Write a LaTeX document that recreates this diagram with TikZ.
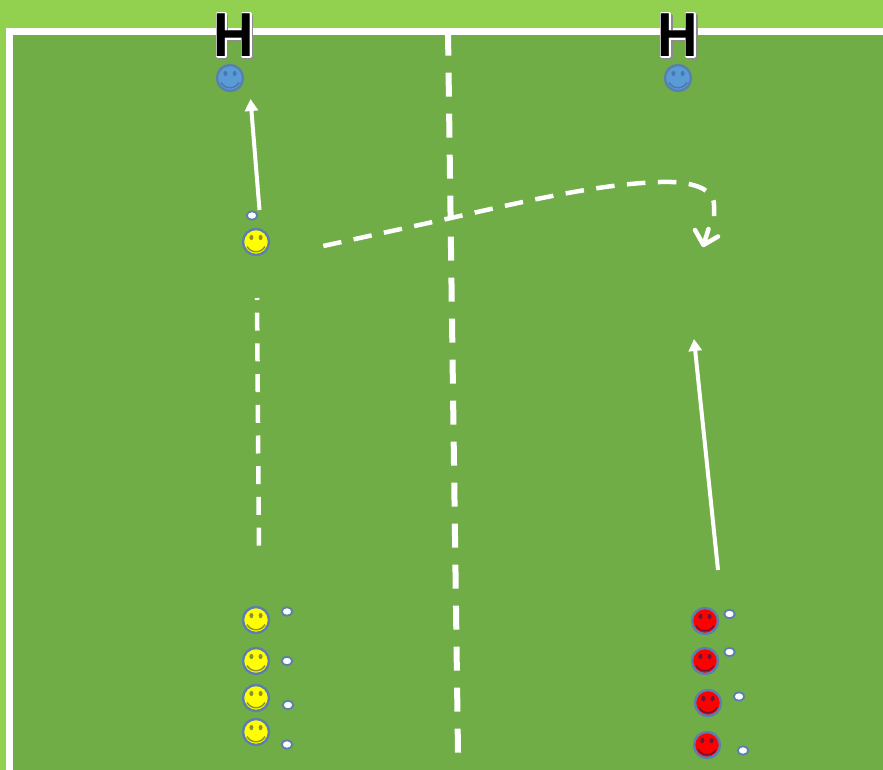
\documentclass[tikz,border=0pt]{standalone}
\usepackage{fontspec}
\usepackage{graphicx}
\setmainfont{Liberation Sans}
\usetikzlibrary{arrows.meta,shapes.geometric}
\definecolor{lightgrass}{HTML}{92D050}
\definecolor{grass}{HTML}{70AD47}
\definecolor{rimblue}{HTML}{5A7FAE}
\definecolor{faceblue}{HTML}{5B9BD5}
\definecolor{markblue}{HTML}{4478B4}
\definecolor{markyellow}{HTML}{8A8F30}
\definecolor{markcrimson}{HTML}{6C1438}
\definecolor{faceyellow}{HTML}{FFFF00}
\definecolor{facered}{HTML}{FF0000}
\tikzset{
  face/.style={circle,draw=rimblue,line width=2.4pt,minimum size=26pt,inner sep=0pt},
  ball/.style={ellipse,draw=rimblue,fill=white,line width=1.8pt,minimum width=10.5pt,minimum height=8.5pt,inner sep=0pt},
  runline/.style={draw=white,line width=4.5pt},
  solidarrow/.style={draw=white,line width=4pt,-{Triangle[length=12pt,width=13pt]}},
  fieldline/.style={draw=white,line width=6pt},
  letterH/.style={inner sep=0pt,font=\bfseries\fontsize{56}{56}\selectfont,text=black}
}
\newcommand{\smileyface}[5]{%
  \node[face,fill=#4] (#1) at (#2,#3) {};
  \fill[#5] (#2-4.6,#3-4.5) ellipse (2 and 2.6);
  \fill[#5] (#2+4.6,#3-4.5) ellipse (2 and 2.6);
  \draw[#5,line width=1.4pt] (#2-9,#3+4.5) .. controls (#2-5,#3+11.5) and (#2+5,#3+11.5) .. (#2+9,#3+4.5);
}
\newcommand{\backedH}[3]{%
  \begin{scope}[shift={(#2,#3)}]
  \foreach \shadeoff/\shadecol in {1.5/black!45,0/white}{
    \draw[\shadecol,line width=3pt,line join=round,fill=\shadecol]
      (-16.5+\shadeoff,-21.5+\shadeoff) -- ++(8,0) -- ++(0,18) -- ++(17,0) -- ++(0,-18) -- ++(8,0)
      -- ++(0,43) -- ++(-8,0) -- ++(0,-18) -- ++(-17,0) -- ++(0,18) -- ++(-8,0) -- cycle;
  }
  \end{scope}
  \node[letterH] (#1) at (#2,#3) {\scalebox{1}[1.11]{H}};
}
\begin{document}
\begin{tikzpicture}[x=1pt,y=-1pt]
\useasboundingbox (0,0) rectangle (883,770);
\fill[lightgrass] (0,0) rectangle (883,770);
\fill[grass] (10,31) rectangle (883,770);
\draw[white,line width=6.5pt] (9.5,770) -- (9.5,31.5) -- (883,31.5);

% centre line
\coordinate (midtop) at (448,31.7);
\coordinate (midbot) at (458,752.7);
\draw[fieldline,dash pattern=on 24pt off 17pt] (midtop) -- (midbot);

% goals
\backedH{goalA}{233.5}{35.5}
\backedH{goalB}{678}{35.5}

% faces
\smileyface{keeperA}{230}{78}{faceblue}{markblue}
\smileyface{keeperB}{678}{78}{faceblue}{markblue}
\smileyface{runner}{256}{242}{faceyellow}{markyellow}
\smileyface{yA}{256}{620}{faceyellow}{markyellow}
\smileyface{yB}{256}{661}{faceyellow}{markyellow}
\smileyface{yC}{256}{698}{faceyellow}{markyellow}
\smileyface{yD}{256}{732}{faceyellow}{markyellow}
\smileyface{rA}{705}{621}{facered}{markcrimson}
\smileyface{rB}{705}{661}{facered}{markcrimson}
\smileyface{rC}{708}{703}{facered}{markcrimson}
\smileyface{rD}{707}{745}{facered}{markcrimson}

% balls
\node[ball] (b0) at (252,215.5) {};
\node[ball] (b1) at (287,611.5) {};
\node[ball] (b2) at (287,661) {};
\node[ball] (b3) at (288,705) {};
\node[ball] (b4) at (287,744.5) {};
\node[ball] (b5) at (729.5,614) {};
\node[ball] (b6) at (729.5,652) {};
\node[ball] (b7) at (739,696.5) {};
\node[ball] (b8) at (743,750.5) {};

% connectors
\coordinate (shotS) at (259.5,210);
\coordinate (shotE) at (250.5,99);
\draw[solidarrow] (shotS) -- (shotE);
\coordinate (runS) at (718,570);
\coordinate (runE) at (694,339);
\draw[solidarrow] (runS) -- (runE);
\coordinate (dashS) at (257,298);
\coordinate (dashE) at (259,547);
\draw[runline,dash pattern=on 18pt off 12.7pt,dash phase=16pt] (dashS) -- (dashE);
\coordinate (passS) at (323.3,246);
\coordinate (passE) at (714,216);
\coordinate (tip) at (703.5,245);
\coordinate (barbA) at (695,230);
\coordinate (barbB) at (718,236.5);
\coordinate (stem) at (708.5,229);
\draw[runline,dash pattern=on 18.5pt off 12.5pt]
  (passS) -- (451,218) .. controls (530,200) and (600,184) .. (660,182)
  .. controls (685,181) and (714,186) .. (714,205) -- (passE);
\draw[runline,line cap=round,line join=round] (barbA) -- (tip) -- (barbB) (stem) -- (tip);
\end{tikzpicture}
\end{document}
